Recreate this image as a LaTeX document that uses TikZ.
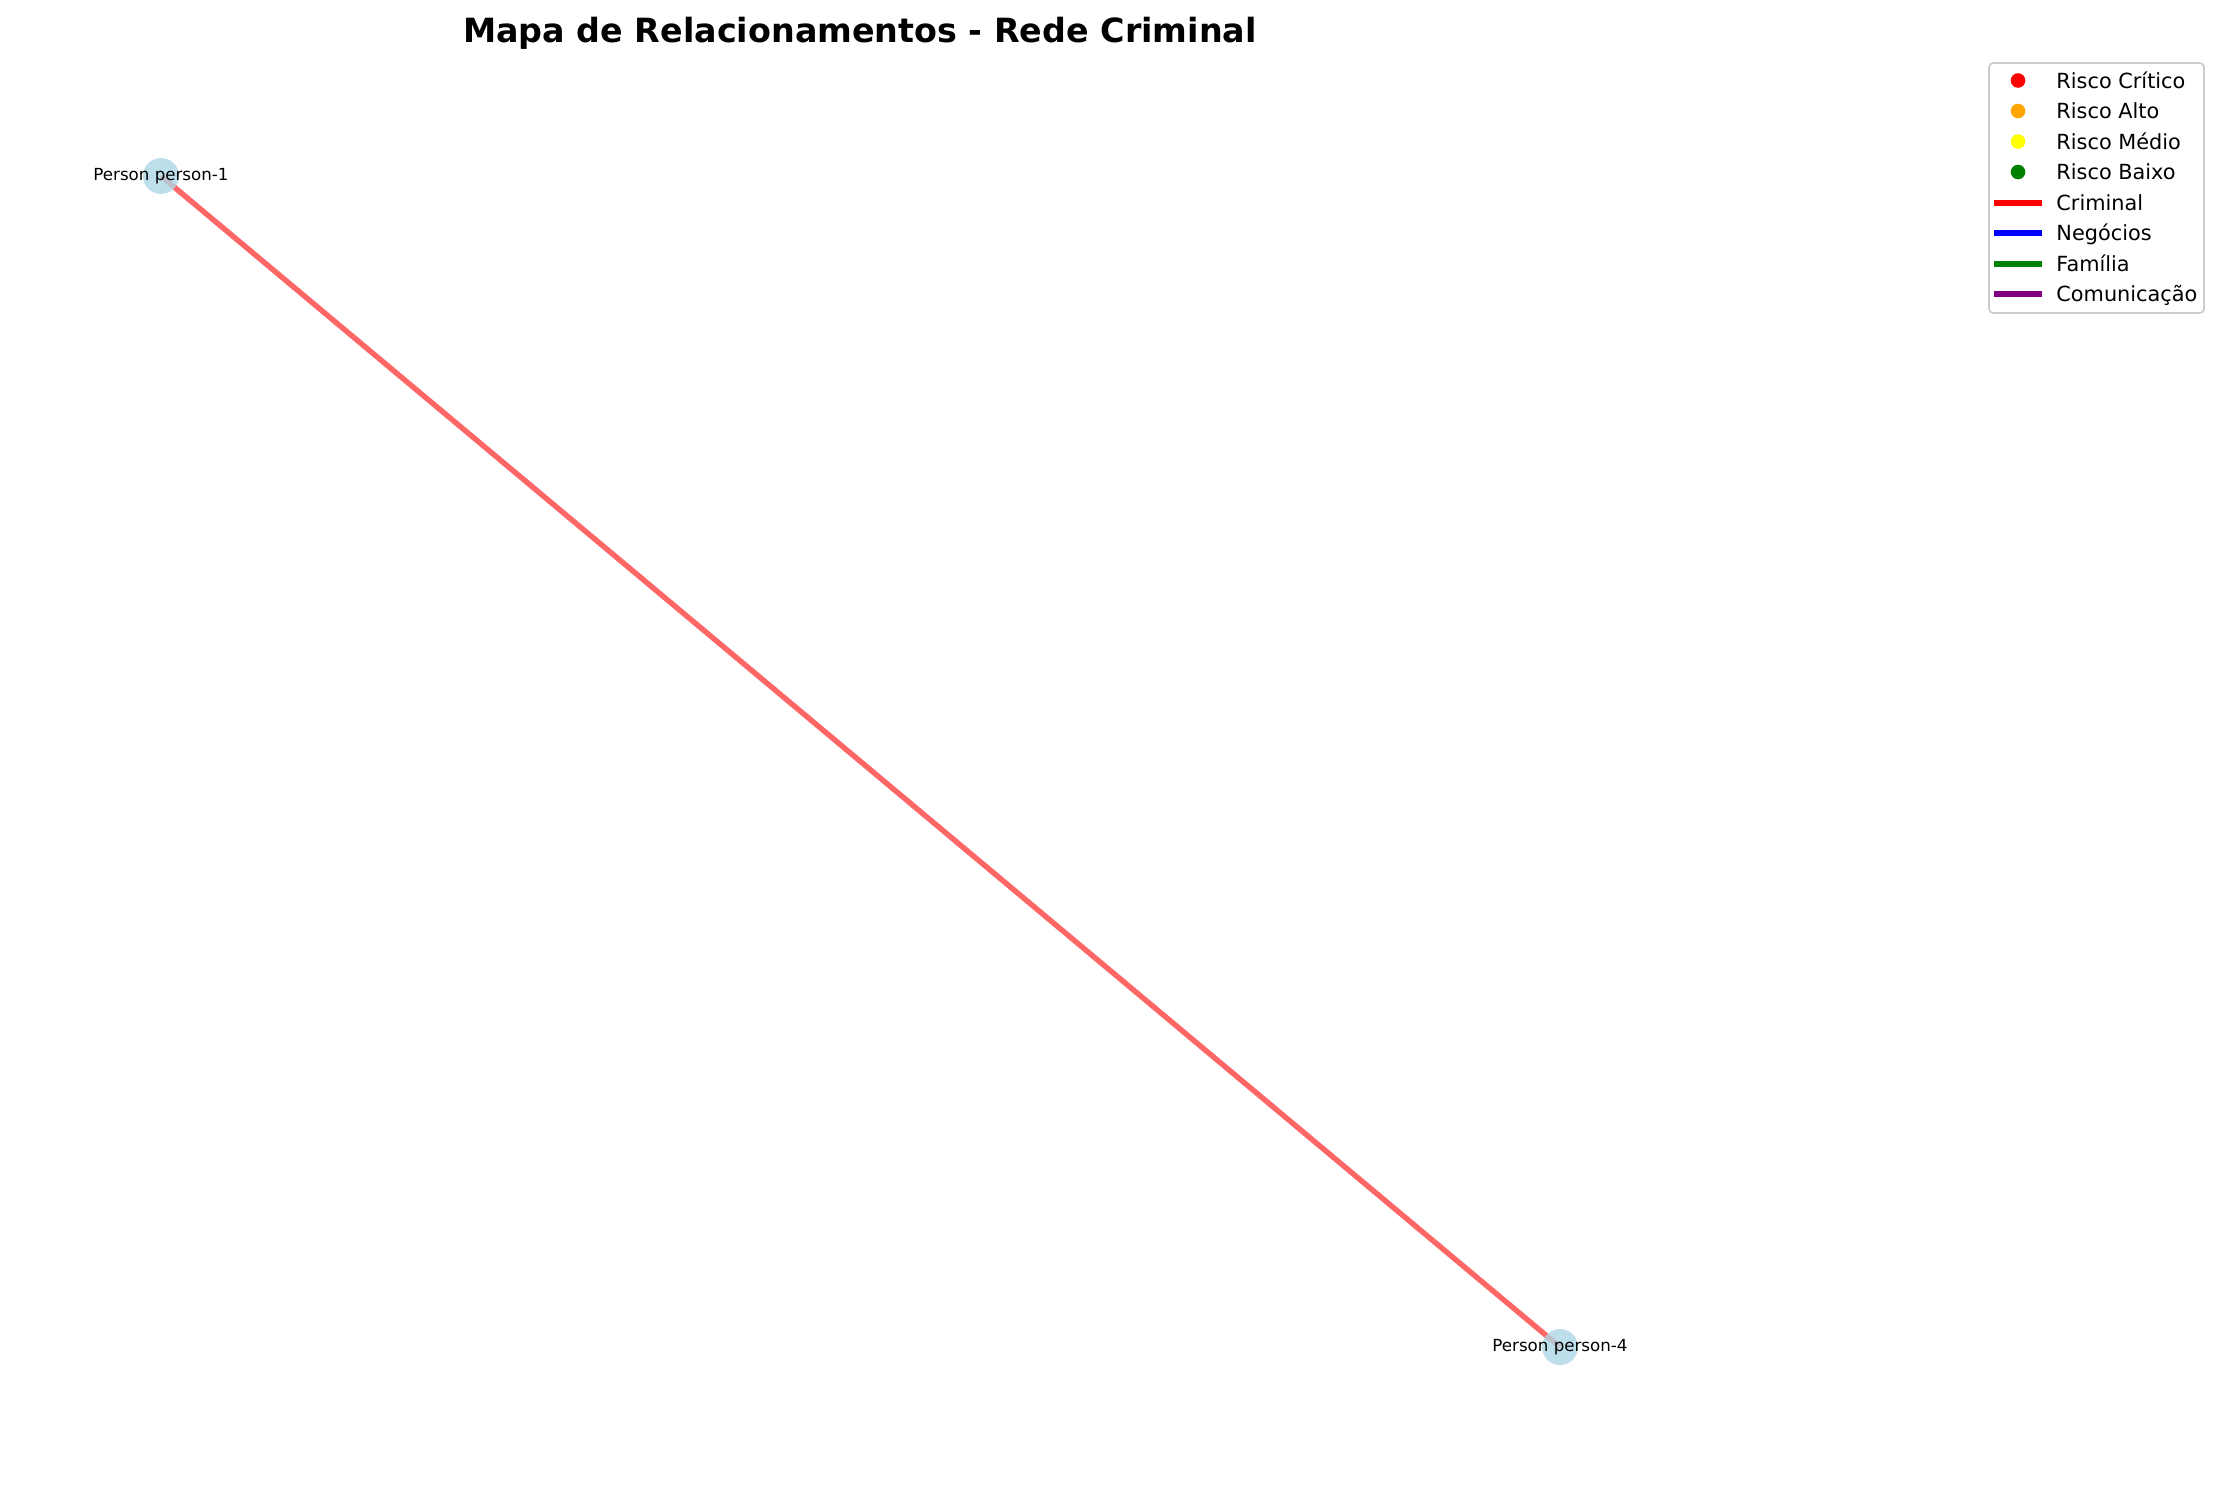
\documentclass[tikz,border=0pt]{standalone}
\usepackage{fontspec}
\setmainfont{DejaVu Sans}
\usetikzlibrary{backgrounds}
\definecolor{nodeblue}{RGB}{173,216,230}
\definecolor{riskorange}{RGB}{255,165,0}
\definecolor{riskyellow}{RGB}{255,255,0}
\definecolor{riskgreen}{RGB}{0,128,0}
\definecolor{relblue}{RGB}{0,0,255}
\definecolor{relpurple}{RGB}{128,0,128}
\definecolor{legframe}{RGB}{204,204,204}

\begin{document}
\begin{tikzpicture}[x=0.48pt,y=-0.48pt,
  person/.style={circle,fill=nodeblue,fill opacity=0.8,minimum size=17.3pt,inner sep=0pt,
                 label={[font=\fontsize{8}{9.6}\selectfont,text opacity=1,fill opacity=1]center:#1}},
  link/.style={draw=red,draw opacity=0.6,line width=2.6pt},
  dot/.style={circle,fill=#1,minimum size=7pt,inner sep=0pt},
  key/.style={draw=#1,line width=3pt},
  keytext/.style={anchor=base west,font=\fontsize{10}{12}\selectfont,inner sep=0pt}]
  \path[use as bounding box] (0,0) rectangle (2219,1486);
  % persons
  \node[person=Person person-1] (p1) at (161,176) {};
  \node[person=Person person-4] (p4) at (1560,1347) {};
  \begin{scope}[on background layer]
    \fill[white] (0,0) rectangle (2219,1486);
    \draw[link] (p1.center) -- (p4.center);
  \end{scope}
  % title
  \node[anchor=base,font=\fontsize{16}{19}\selectfont\bfseries] (title) at (860,42)
    {Mapa de Relacionamentos - Rede Criminal};
  % legend
  \draw[legframe,fill=white,fill opacity=0.8,line width=0.8pt,rounded corners=2pt]
    (1989,63) rectangle (2204,313);
  \foreach \col/\txt [count=\i from 0] in {red/Risco Crítico,riskorange/Risco Alto,
      riskyellow/Risco Médio,riskgreen/Risco Baixo}{
    \node[dot=\col] (mk\i) at (2018,{80.5+30.5*\i}) {};
    \node[keytext] (kt\i) at (2056,{88.3+30.5*\i}) {\txt};
  }
  \foreach \col/\txt [count=\i from 4] in {red/Criminal,relblue/Negócios,
      riskgreen/Família,relpurple/Comunicação}{
    \draw[key=\col] (1994,{80.7+30.5*\i}) -- (2042,{80.7+30.5*\i});
    \node[keytext] (kt\i) at (2056,{88.3+30.5*\i}) {\txt};
  }
\end{tikzpicture}
\end{document}
